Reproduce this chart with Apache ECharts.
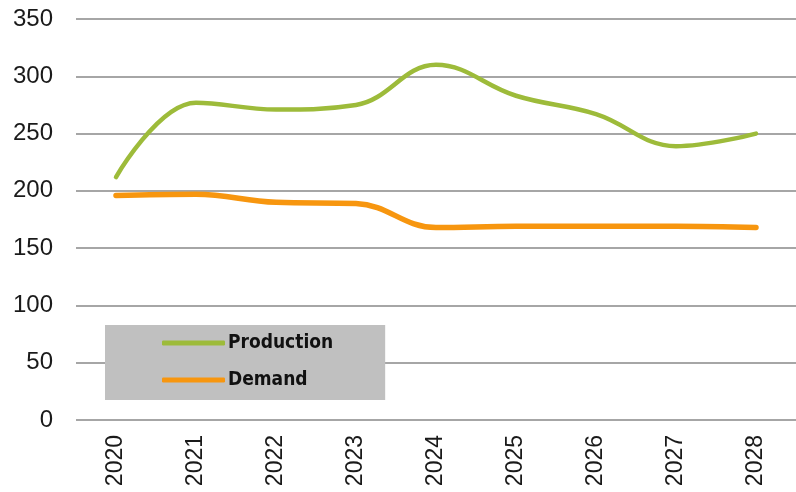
<!DOCTYPE html>
<html>
<head>
<meta charset="utf-8">
<script src="https://cdn.jsdelivr.net/npm/echarts@6/dist/echarts.min.js"></script>
<style>
  html, body { margin: 0; padding: 0; background: #fff; }
  #chart { width: 796px; height: 492px; }
</style>
</head>
<body>
<div id="chart"></div>
<script>
// Yearly supply vs. demand outlook
const years = ['2020', '2021', '2022', '2023', '2024', '2025', '2026', '2027', '2028'];
const production = [212, 277, 271, 275, 310, 283, 267, 239, 250];
const demand = [196, 197, 190, 189, 168, 169, 169, 169, 168];
const yTicks = { min: 0, max: 350, interval: 50 };

const chart = echarts.init(document.getElementById('chart'));
chart.setOption({
  animation: false,
  backgroundColor: '#ffffff',
  grid: { left: 76, right: -7, top: 19, bottom: 72, containLabel: false },
  legend: {
    orient: 'vertical',
    left: 105,
    top: 325,
    padding: [8, 52, 10, 57],
    itemGap: 17,
    itemWidth: 63,
    itemHeight: 5,
    backgroundColor: '#c0c0c0',
    icon: 'roundRect',
    textStyle: {
      fontFamily: 'DejaVu Sans Condensed',
      fontWeight: 'bold',
      fontSize: 19,
      lineHeight: 20,
      color: '#111',
      padding: [0, 0, 0, -2]
    },
    data: ['Production', 'Demand']
  },
  xAxis: {
    type: 'category',
    data: years,
    boundaryGap: true,
    axisLine: { show: false },
    axisTick: { show: false },
    axisLabel: {
      rotate: 90,
      margin: 15,
      fontFamily: 'Liberation Sans',
      fontSize: 23,
      color: '#1a1a1a'
    }
  },
  yAxis: {
    type: 'value',
    min: yTicks.min,
    max: yTicks.max,
    interval: yTicks.interval,
    axisLine: { show: false },
    axisTick: { show: false },
    splitLine: { lineStyle: { color: '#a6a6a6', width: 2 } },
    axisLabel: {
      margin: 23,
      fontFamily: 'Liberation Sans',
      fontSize: 24,
      color: '#1a1a1a'
    }
  },
  series: [
    {
      name: 'Production',
      type: 'line',
      data: production,
      smooth: 0.4,
      showSymbol: false,
      lineStyle: { color: '#9dbb3a', width: 4.5, cap: 'round' },
      itemStyle: { color: '#9dbb3a' }
    },
    {
      name: 'Demand',
      type: 'line',
      data: demand,
      smooth: 0.4,
      showSymbol: false,
      lineStyle: { color: '#f7960f', width: 5.5, cap: 'round' },
      itemStyle: { color: '#f7960f' }
    }
  ]
});
</script>
</body>
</html>
